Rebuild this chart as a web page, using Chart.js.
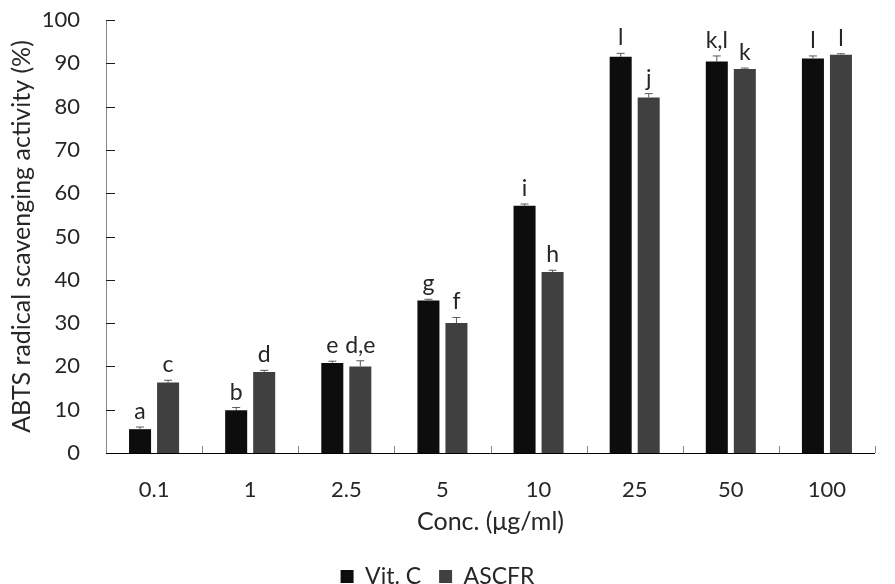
<!DOCTYPE html>
<html><head><meta charset="utf-8">
<script src="https://cdn.jsdelivr.net/npm/chart.js@4/dist/chart.umd.min.js"></script>
<style>html,body{margin:0;padding:0;background:#fff}#wrap{width:895px;height:584px}</style>
</head><body><div id="wrap"><canvas id="c"></canvas></div>
<script>
const categories = ['0.1','1','2.5','5','10','25','50','100'];
const vitC = [5.5, 9.9, 20.8, 35.2, 57.1, 91.5, 90.4, 91.1];
const vitCErr = [0.5, 0.6, 0.4, 0.3, 0.4, 0.8, 1.3, 0.6];
const ascfr = [16.3, 18.7, 20.0, 30.0, 41.8, 82.1, 88.7, 92.0];
const ascfrErr = [0.5, 0.4, 1.3, 1.3, 0.4, 0.9, 0.2, 0.2];
const vitCLetters = ['a','b','e','g','i','l','k,l','l'];
const ascfrLetters = ['c','d','d,e','f','h','j','k','l'];
const yTicks = [0,10,20,30,40,50,60,70,80,90,100];

const FONT = 'Lato';
const TXT = '#262626';

const errPlugin = {
  id: 'errAndLabels',
  afterDatasetsDraw(chart) {
    const ctx = chart.ctx, y = chart.scales.y;
    const errs = [vitCErr, ascfrErr], letters = [vitCLetters, ascfrLetters];
    chart.data.datasets.forEach((ds, di) => {
      const meta = chart.getDatasetMeta(di);
      meta.data.forEach((bar, i) => {
        const v = ds.data[i], e = errs[di][i];
        const yt = y.getPixelForValue(v + e), yv = y.getPixelForValue(v);
        ctx.save();
        ctx.strokeStyle = '#595959'; ctx.lineWidth = 1;
        ctx.beginPath();
        ctx.moveTo(bar.x, yv); ctx.lineTo(bar.x, yt);
        ctx.moveTo(bar.x - 4, yt); ctx.lineTo(bar.x + 4, yt);
        ctx.stroke();
        ctx.fillStyle = TXT;
        ctx.font = '23px ' + FONT;
        ctx.textAlign = 'center'; ctx.textBaseline = 'alphabetic';
        ctx.fillText(letters[di][i], bar.x, yt - 8);
        ctx.restore();
      });
    });
  },
  afterDraw(chart) {
    const ctx = chart.ctx, x = chart.scales.x, y = chart.scales.y;
    ctx.save();
    ctx.strokeStyle = '#868686'; ctx.lineWidth = 1;
    for (let i = 0; i <= categories.length; i++) {
      const px = Math.round(x.getPixelForValue(i - 0.5)) + 0.5;
      ctx.beginPath(); ctx.moveTo(px, y.bottom); ctx.lineTo(px, y.bottom - 7); ctx.stroke();
    }
    ctx.strokeStyle = '#1a1a1a';
    yTicks.forEach(t => {
      const py = Math.round(y.getPixelForValue(t)) + 0.5;
      ctx.beginPath(); ctx.moveTo(x.left, py); ctx.lineTo(x.left + 9, py); ctx.stroke();
    });
    ctx.strokeStyle = '#000';
    ctx.beginPath(); ctx.moveTo(x.left, Math.round(y.bottom) + 0.5); ctx.lineTo(x.right, Math.round(y.bottom) + 0.5); ctx.stroke();
    ctx.restore();
  }
};

new Chart(document.getElementById('c'), {
  type: 'bar',
  data: {
    labels: categories,
    datasets: [
      { label: 'Vit. C', data: vitC, backgroundColor: '#0d0d0d', categoryPercentage: 0.583, barPercentage: 0.786 },
      { label: 'ASCFR', data: ascfr, backgroundColor: '#404040', categoryPercentage: 0.583, barPercentage: 0.786 }
    ]
  },
  options: {
    responsive: true, maintainAspectRatio: false, animation: false,
    layout: { padding: { left: 0, right: 20, top: 20, bottom: -14 } },
    plugins: {
      tooltip: { enabled: false },
      legend: {
        position: 'bottom',
        labels: { boxWidth: 13, boxHeight: 13, padding: 18, color: TXT, font: { family: FONT, size: 23 } }
      }
    },
    scales: {
      x: {
        grid: { display: false },
        border: { display: false },
        ticks: { color: TXT, padding: 16, font: { family: FONT, size: 22 } },
        title: { display: true, text: 'Conc. (μg/ml)', color: TXT, padding: { top: 0, bottom: 10 }, font: { family: FONT, size: 25 } },
        afterFit(s) { s.height = 94; }
      },
      y: {
        min: 0, max: 100,
        grid: { display: false },
        border: { display: true, color: '#868686', width: 1 },
        ticks: { stepSize: 10, color: TXT, padding: 18, font: { family: FONT, size: 22 } },
        title: { display: true, text: 'ABTS radical scavenging activity (%)', color: TXT, padding: { top: 7, bottom: 4 }, font: { family: FONT, size: 25 } },
        afterFit(s) { s.width = 106; s.paddingTop = 0; s.paddingBottom = 0; }
      }
    }
  },
  plugins: [errPlugin]
});
</script>
</body></html>
